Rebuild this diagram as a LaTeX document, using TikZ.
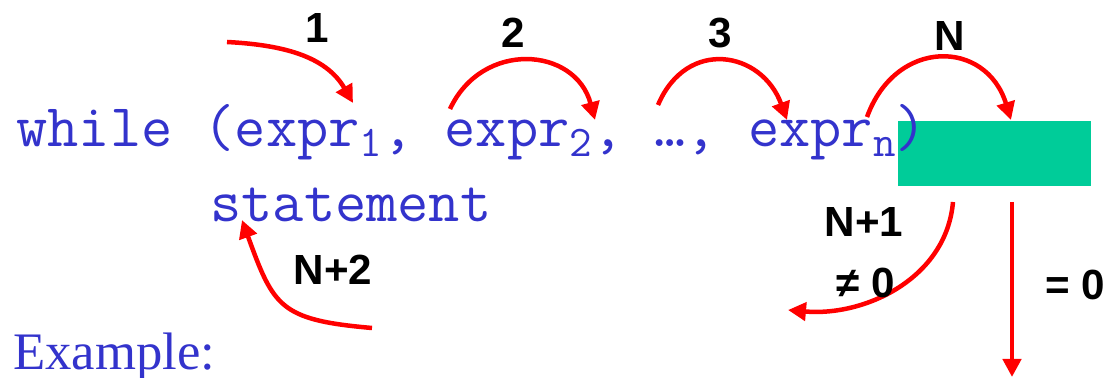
\documentclass[tikz,border=0pt]{standalone}
\usepackage{fontspec}
\setmainfont{Liberation Serif}
\newfontfamily\labelfont{Liberation Sans}
\usetikzlibrary{arrows.meta}

\definecolor{codeblue}{RGB}{51,51,204}
\definecolor{boxgreen}{RGB}{0,204,153}

% lowered index in the code line
\newcommand{\idx}[1]{\raisebox{-0.2cm}{\fontsize{24.9}{25}\selectfont #1}}

\tikzset{
  code/.style={text=codeblue, font=\ttfamily\fontsize{34.5}{36}\selectfont, anchor=base west, inner sep=0pt},
  flow/.style={red, line width=0.09cm, -{Triangle[length=0.36cm,width=0.36cm]}},
  count/.style={font=\labelfont\bfseries\fontsize{24}{26}\selectfont, inner sep=0pt}
}

\begin{document}
\begin{tikzpicture}[x=0.02cm, y=0.02cm]
\useasboundingbox (0,0) rectangle (1107,378);

% condition box
\node[fill=boxgreen, minimum width=3.86cm, minimum height=1.3cm, inner sep=0pt] (cond) at (994.5,224.5) {};

% code
\node[code] (loop) at (16,231) {while (expr\idx{1}, expr\idx{2}, …, expr\idx{n})};
\node[code] (body) at (210,156) {statement};
\node[text=codeblue, font=\fontsize{30}{32}\selectfont, anchor=base west, inner sep=0pt] (ex) at (13,8) {Example:};

% arrow ends
\coordinate (s1) at (227,336);  \coordinate (t1) at (353,275);
\coordinate (s2) at (450,269);  \coordinate (t2) at (595,258);
\coordinate (s3) at (658,273);  \coordinate (t3) at (787,258);
\coordinate (sN) at (867,261);  \coordinate (tN) at (1011,258);
\coordinate (sN1) at (953,176); \coordinate (tN1) at (788,68);
\coordinate (sZ) at (1012,176); \coordinate (tZ) at (1012,1);
\coordinate (sN2) at (372,50);  \coordinate (tN2) at (242,158);

\draw[flow] (s1) to[out=-3,in=120] (t1);
\draw[flow] (s2) to[out=65,in=105,looseness=1.34] (t2);
\draw[flow] (s3) to[out=67,in=110,looseness=1.45] (t3);
\draw[flow] (sN) to[out=70,in=107,looseness=1.5] (tN);
\draw[flow] (sN1) to[out=-95,in=-5] (tN1);
\draw[flow] (sZ) -- (tZ);
\draw[flow] (sN2) to[out=175,in=-70,looseness=1.4] (tN2);

% step numbers
\node[count] (c1) at (317,350) {1};
\node[count] (c2) at (513,345) {2};
\node[count] (c3) at (720,345) {3};
\node[count] (cN) at (950,342) {N};
\node[count] (cN1) at (864,156) {N+1};
\node[count] (cne) at (866,95) {≠ 0};
\node[count] (ceq) at (1075,93) {= 0};
\node[count] (cN2) at (333,108) {N+2};

\end{tikzpicture}
\end{document}
